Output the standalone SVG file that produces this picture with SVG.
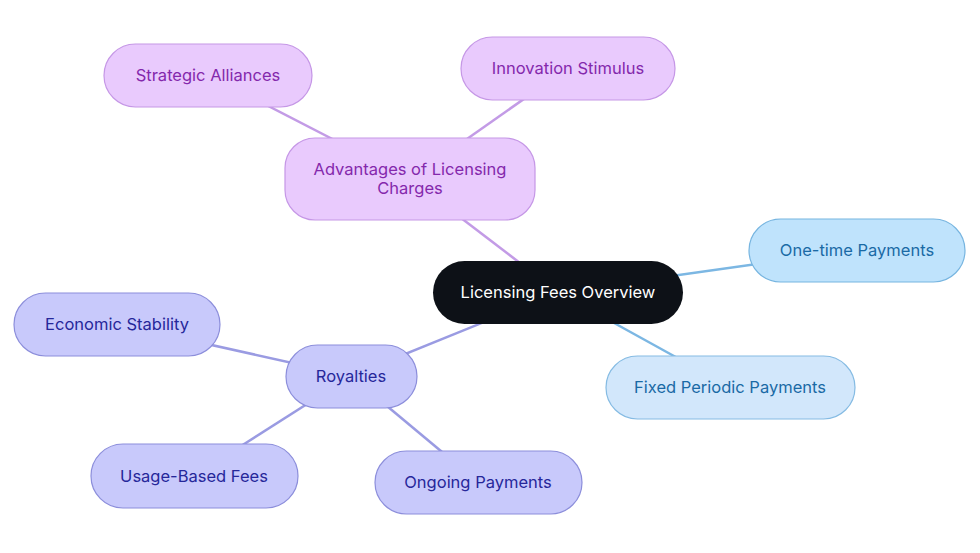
<svg xmlns="http://www.w3.org/2000/svg" width="980" height="553" viewBox="0 0 980 553">
<style>
text{font-family:Inter,"Noto Sans","Liberation Sans",sans-serif;font-size:16.5px;text-anchor:middle;dominant-baseline:central}
.p rect{fill:#e9cafd;stroke:#c597e6;stroke-width:1.2}
.p text{fill:#8428ac}
.b rect{fill:#bfe3fc;stroke:#77b5e0;stroke-width:1.2}
.b text{fill:#1a6aa5}
.b2 rect{fill:#d2e7fb;stroke:#85bbe3;stroke-width:1.2}
.v rect{fill:#c8c9fb;stroke:#8c8edb;stroke-width:1.2}
.v text{fill:#26279a}
.c rect{fill:#0d1117}
.c text{fill:#ffffff}
.ep{stroke:#c39be6;stroke-width:2.5}
.eb{stroke:#7cb7e3;stroke-width:2.5}
.ev{stroke:#9a9be2;stroke-width:2.5}
</style>
<rect width="980" height="553" fill="#ffffff"/>
<g id="connectors">
<line class="ep" x1="558" y1="292" x2="410" y2="179"/>
<line class="ep" x1="410" y1="179" x2="208" y2="75"/>
<line class="ep" x1="410" y1="179" x2="568" y2="68"/>
<line class="eb" x1="558" y1="292" x2="857" y2="250"/>
<line class="eb" x1="558" y1="292" x2="730" y2="387"/>
<line class="ev" x1="558" y1="292" x2="351" y2="376"/>
<line class="ev" x1="351" y1="376" x2="117" y2="324"/>
<line class="ev" x1="351" y1="376" x2="194" y2="476"/>
<line class="ev" x1="351" y1="376" x2="478" y2="482"/>
</g>
<g id="central" class="c"><rect x="433" y="261" width="250" height="63" rx="31.5"/><text x="558" y="292">Licensing Fees Overview</text></g>
<g id="advantages" class="p"><rect x="285" y="138" width="250" height="82" rx="30"/><text x="410" y="169">Advantages of Licensing</text><text x="410" y="188">Charges</text></g>
<g id="strategic" class="p"><rect x="104" y="44" width="208" height="63" rx="31.5"/><text x="208" y="75">Strategic Alliances</text></g>
<g id="innovation" class="p"><rect x="461" y="37" width="214" height="63" rx="31.5"/><text x="568" y="68">Innovation Stimulus</text></g>
<g id="onetime" class="b"><rect x="749" y="219" width="216" height="63" rx="31.5"/><text x="857" y="250">One-time Payments</text></g>
<g id="fixed" class="b b2"><rect x="606" y="356" width="249" height="63" rx="31.5"/><text x="730" y="387">Fixed Periodic Payments</text></g>
<g id="royalties" class="v"><rect x="286" y="345" width="131" height="63" rx="31.5"/><text x="351" y="376">Royalties</text></g>
<g id="economic" class="v"><rect x="14" y="293" width="206" height="63" rx="31.5"/><text x="117" y="324">Economic Stability</text></g>
<g id="usage" class="v"><rect x="91" y="444" width="207" height="64" rx="32"/><text x="194" y="476">Usage-Based Fees</text></g>
<g id="ongoing" class="v"><rect x="375" y="451" width="207" height="63" rx="31.5"/><text x="478" y="482">Ongoing Payments</text></g>
</svg>
